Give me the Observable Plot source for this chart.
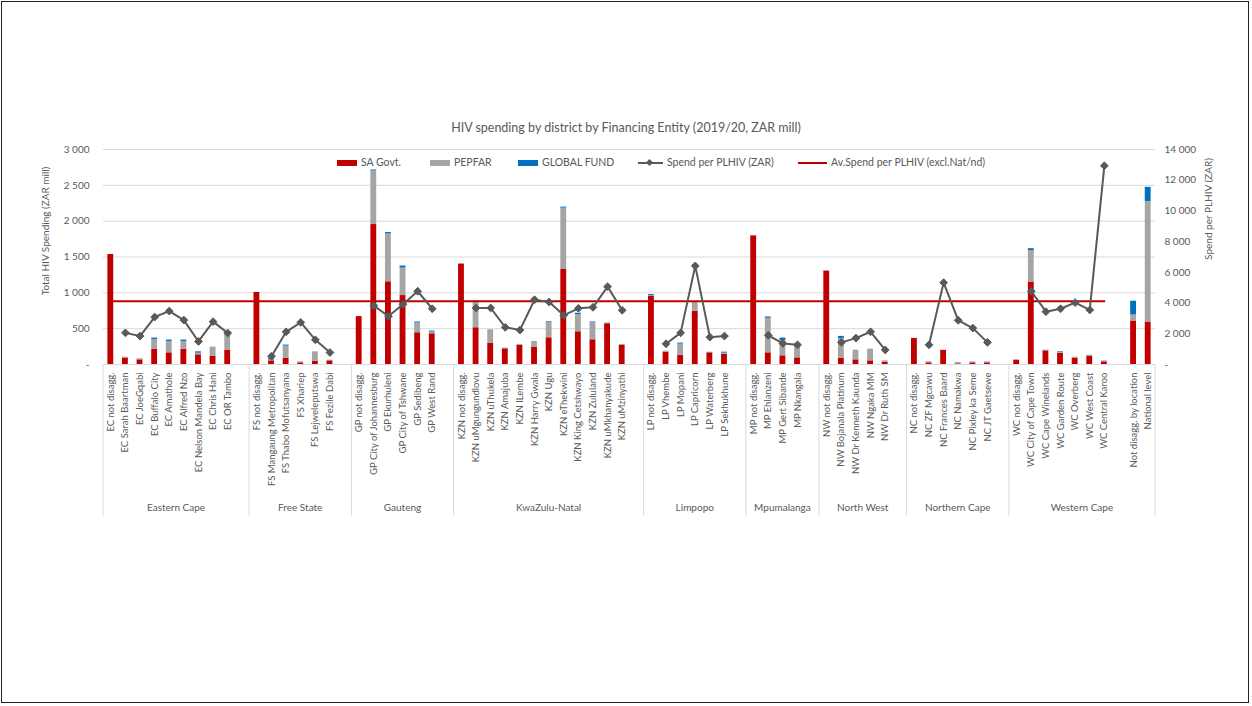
<!DOCTYPE html>
<html>
<head>
<meta charset="utf-8">
<script src="https://cdn.jsdelivr.net/npm/d3@7"></script>
<script src="https://cdn.jsdelivr.net/npm/@observablehq/plot@0.6"></script>
<style>
  html, body { margin: 0; padding: 0; background: #fff; }
  #wrap { position: relative; width: 1252px; height: 706px; overflow: hidden; font-family: Lato, "Open Sans", sans-serif; color: #595959; }
  #frame { position: absolute; left: 1px; top: 1px; width: 1248px; height: 702px; border: 1px solid #222; box-sizing: border-box; pointer-events: none; }
  #title { position: absolute; left: 0; top: 120px; width: 1252px; text-align: center; font-size: 12.5px; }
  .leg { position: absolute; top: 156px; font-size: 10.5px; white-space: nowrap; line-height: 13px; }
  .sw { position: absolute; top: 4px; width: 20px; height: 6px; }
  .ln { position: absolute; top: 6px; width: 28px; height: 2px; }
  #chart { position: absolute; left: 0; top: 0; }
</style>
</head>
<body>
<div id="wrap">
  <div id="chart"></div>
  <div id="title">HIV spending by district by Financing Entity (2019/20, ZAR mill)</div>
  <div id="legend"></div>
  <div id="frame"></div>
</div>
<script>
// ---- data ----
const groupLabels = ["Eastern Cape","Free State","Gauteng","KwaZulu-Natal","Limpopo","Mpumalanga","North West","Northern Cape","Western Cape"];
const groupSizes = [10, 7, 7, 13, 7, 5, 6, 7, 10];

const categories = [
  "EC not disagg.","EC Sarah Baartman","EC JoeGqabi","EC Buffalo City","EC Amathole","EC Alfred Nzo","EC Nelson Mandela Bay","EC Chris Hani","EC OR Tambo","",
  "FS not disagg.","FS Mangaung Metropolitan","FS Thabo Mofutsanyana","FS Xhariep","FS Lejweleputswa","FS Fezile Dabi","",
  "GP not disagg.","GP City of Johannesburg","GP Ekurhuleni","GP City of Tshwane","GP Sedibeng","GP West Rand","",
  "KZN not disagg.","KZN uMgungundlovu","KZN uThukela","KZN Amajuba","KZN ILembe","KZN Harry Gwala","KZN Ugu","KZN eThekwini","KZN King Cetshwayo","KZN Zululand","KZN uMkhanyakude","KZN uMzinyathi","",
  "LP not disagg.","LP Vhembe","LP Mopani","LP Capricorn","LP Waterberg","LP Sekhukhune","",
  "MP not disagg.","MP Ehlanzeni","MP Gert Sibande","MP Nkangala","",
  "NW not disagg.","NW Bojanala Platinum","NW Dr Kenneth Kaunda","NW Ngaka MM","NW Dr Ruth SM","",
  "NC not disagg.","NC ZF Mgcawu","NC Frances Baard","NC Namakwa","NC Pixley ka Seme","NC JT Gaetsewe","",
  "WC not disagg.","WC City of Cape Town","WC Cape Winelands","WC Garden Route","WC Overberg","WC West Coast","WC Central Karoo","",
  "Not disagg. by location","National level"
];

const saGovt = [
  1535, 90, 65, 214, 163, 214, 135, 116, 200, null,
  1005, 51, 88, 23, 47, 51, null,
  668, 1953, 1154, 962, 443, 429, null,
  1402, 513, 294, 219, 266, 243, 373, 1326, 457, 345, 569, 266, null,
  955, 172, 130, 743, 163, 144, null,
  1795, 163, 121, 93, null,
  1304, 88, 65, 51, 32, null,
  364, 23, 196, 9, 23, 23, null,
  60, 1150, 191, 158, 88, 116, 37, null,
  607, 593
];
const pepfar = [
  0, 12, 14, 136, 159, 108, 23, 127, 229, null,
  0, 14, 169, 14, 130, 9, null,
  0, 747, 668, 384, 136, 24, null,
  0, 365, 191, 10, 14, 79, 216, 856, 239, 238, 10, 14, null,
  8, 14, 155, 137, 9, 14, null,
  0, 482, 215, 168, null,
  0, 276, 135, 163, 19, null,
  0, 14, 4, 19, 14, 14, null,
  5, 438, 9, 10, 14, 14, 14, null,
  84, 1682
];
const globalFund = [
  0, 0, 0, 19, 19, 19, 19, 0, 10, null,
  0, 19, 14, 0, 0, 0, null,
  0, 14, 19, 28, 14, 14, null,
  0, 7, 0, 0, 0, 0, 9, 14, 19, 10, 0, 0, null,
  13, 0, 14, 0, 0, 14, null,
  0, 18, 33, 0, null,
  0, 28, 0, 0, 0, null,
  0, 0, 0, 0, 0, 0, null,
  0, 28, 0, 9, 0, 0, 0, null,
  192, 197
];
const spendPerPLHIV = [
  null, 2060, 1850, 3090, 3480, 2890, 1500, 2790, 2050, null,
  null, 540, 2130, 2740, 1610, 780, null,
  null, 3830, 3140, 3920, 4770, 3630, null,
  null, 3680, 3680, 2420, 2240, 4220, 4070, 3200, 3660, 3720, 5070, 3530, null,
  null, 1350, 2060, 6420, 1780, 1850, null,
  null, 1900, 1370, 1280, null,
  null, 1440, 1720, 2130, 950, null,
  null, 1280, 5330, 2880, 2370, 1440, null,
  null, 4770, 3440, 3630, 4030, 3550, 12940, null,
  null, null
];
const avgSpendPerPLHIV = 4120;
const avgFrom = "EC not disagg.";
const avgTo = "WC Central Karoo";

const sources = ["SA Govt.", "PEPFAR", "GLOBAL FUND"];
const sourceColors = ["#C00000", "#A5A5A5", "#0070C0"];
const leftTicks = [0, 500, 1000, 1500, 2000, 2500, 3000];
const rightTicks = [0, 2000, 4000, 6000, 8000, 10000, 12000, 14000];
const leftMax = 3000, rightMax = 14000;

// ---- build ----
const keys = categories.map((c, i) => c === "" ? `_blank${i}` : c);
const labelOf = new Map(keys.map((k, i) => [k, categories[i]]));
const series = [saGovt, pepfar, globalFund];
const barData = [];
sources.forEach((s, si) => {
  keys.forEach((k, i) => {
    const v = series[si][i];
    if (v != null && v > 0) barData.push({k, source: s, v});
  });
});
const toLeft = v => v * leftMax / rightMax;
const lineData = keys.map((k, i) => ({k, v: spendPerPLHIV[i] == null ? NaN : toLeft(spendPerPLHIV[i])}));
const dotData = lineData.filter(d => !isNaN(d.v));
const avgData = [{k: avgFrom, v: toLeft(avgSpendPerPLHIV)}, {k: avgTo, v: toLeft(avgSpendPerPLHIV)}];
const fmt = v => v === 0 ? "-" : d3.format(",")(v).replace(/,/g, " ");

const W = 1252, H = 706;
const plot = Plot.plot({
  width: W, height: H,
  marginLeft: 103, marginRight: 97, marginTop: 149, marginBottom: 342,
  style: {fontFamily: "Lato, 'Open Sans', sans-serif", fontSize: "9.5px", color: "#595959", background: "transparent"},
  x: {type: "band", domain: keys, paddingInner: 0.6, paddingOuter: 0.3, round: false, label: null},
  y: {domain: [0, leftMax], label: null},
  color: {domain: sources, range: sourceColors},
  marks: [
    Plot.gridY(leftTicks, {stroke: "#d9d9d9", strokeOpacity: 1, strokeWidth: 1}),
    Plot.barY(barData, {x: "k", y: "v", fill: "source", order: sources}),
    Plot.lineY(avgData, {x: "k", y: "v", stroke: "#C00000", strokeWidth: 2}),
    Plot.lineY(lineData, {x: "k", y: "v", stroke: "#595959", strokeWidth: 2}),
    Plot.dot(dotData, {x: "k", y: "v", symbol: "diamond2", r: 3.5, fill: "#595959", stroke: "#595959", strokeWidth: 1}),
    Plot.axisY(leftTicks, {anchor: "left", tickSize: 0, tickPadding: 14, tickFormat: fmt, fontSize: 10, label: null}),
    Plot.axisY(rightTicks.map(toLeft), {anchor: "right", tickSize: 0, tickPadding: 9, tickFormat: v => fmt(Math.round(v * rightMax / leftMax)), fontSize: 10, label: null}),
    Plot.axisX({tickRotate: -90, tickSize: 0, tickPadding: 8, tickFormat: k => labelOf.get(k), label: null, fontSize: 9.5})
  ]
});
document.getElementById("chart").appendChild(plot);

// category-group separators and group labels on the x axis
const xs = plot.scale("x");
const half = (xs.step - xs.bandwidth) / 2;
const svg = d3.select(plot);
const g = svg.append("g");
const y0 = H - 342, yEnd = 516;
let start = 0;
const bounds = [];
groupSizes.forEach((n, gi) => {
  const left = xs.apply(keys[start]) - half;
  const last = keys[start + n - 1];
  const right = xs.apply(last) + xs.bandwidth + half;
  bounds.push(left);
  if (gi === groupSizes.length - 1) bounds.push(right);
  g.append("text").attr("x", (left + right) / 2).attr("y", 511)
    .attr("text-anchor", "middle").attr("font-size", 10).attr("fill", "#595959")
    .text(groupLabels[gi]);
  start += n;
});
bounds.forEach(b => g.append("line").attr("x1", b).attr("x2", b).attr("y1", y0).attr("y2", yEnd)
  .attr("stroke", "#d9d9d9").attr("stroke-width", 1));

// axis titles
svg.append("text").attr("transform", "translate(49,231) rotate(-90)").attr("text-anchor", "middle")
  .attr("font-size", 10).attr("fill", "#595959").text("Total HIV Spending (ZAR mill)");
svg.append("text").attr("transform", "translate(1212,209) rotate(-90)").attr("text-anchor", "middle")
  .attr("font-size", 10).attr("fill", "#595959").text("Spend per PLHIV (ZAR)");

// legend
const legend = document.getElementById("legend");
const legItems = [
  {type: "sw", color: sourceColors[0], label: sources[0], x: 337, tx: 361},
  {type: "sw", color: sourceColors[1], label: sources[1], x: 430, tx: 454},
  {type: "sw", color: sourceColors[2], label: sources[2], x: 518, tx: 542},
  {type: "line", color: "#595959", label: "Spend per PLHIV (ZAR)", x: 638, tx: 667, marker: true},
  {type: "line", color: "#C00000", label: "Av.Spend per PLHIV (excl.Nat/nd)", x: 798, tx: 831}
];
legItems.forEach(it => {
  const d = document.createElement("div");
  d.className = "leg";
  d.style.left = it.x + "px";
  d.style.width = "260px";
  d.style.height = "14px";
  if (it.type === "sw") {
    d.innerHTML = `<span class="sw" style="left:0;background:${it.color}"></span><span style="position:absolute;left:${it.tx - it.x}px;top:0">${it.label}</span>`;
  } else {
    const w = it.tx - it.x - 4;
    d.innerHTML = `<span class="ln" style="left:0;width:${w}px;background:${it.color}"></span>` +
      (it.marker ? `<span style="position:absolute;left:${w/2 - 3.5}px;top:3.5px;width:5px;height:5px;background:${it.color};transform:rotate(45deg)"></span>` : "") +
      `<span style="position:absolute;left:${it.tx - it.x}px;top:0">${it.label}</span>`;
  }
  legend.appendChild(d);
});
</script>
</body>
</html>
